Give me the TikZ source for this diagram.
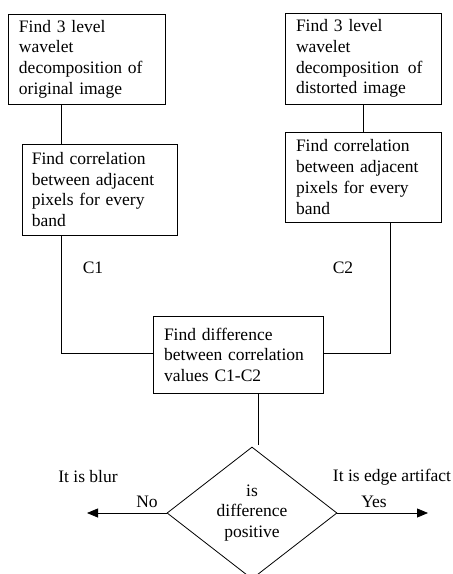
\documentclass[tikz,border=0pt]{standalone}
\usepackage{fontspec}
\setmainfont{Liberation Serif}
\usetikzlibrary{shapes.geometric,arrows.meta}
\begin{document}
\begin{tikzpicture}[x=1pt,y=-1pt,
  every node/.style={font=\fontsize{17.5}{20.7}\selectfont},
  stepbox/.style={draw, line width=0.8pt, align=left, inner xsep=11pt, inner ysep=2pt, anchor=center},
  conn/.style={line width=0.8pt},
  arr/.style={line width=0.8pt, -{Triangle[length=11pt,width=9pt]}},
  lbl/.style={inner sep=0pt}]
\useasboundingbox (0,0) rectangle (453,574);
\node[stepbox, text width=135pt, minimum height=90pt] (b1) at (86.5,59) {Find 3 level\\wavelet\\decomposition of\\original image};
\node[stepbox, text width=135pt, minimum height=91pt, inner xsep=9pt, text width=137pt] (b2) at (100.3,189.5) {Find correlation\\between adjacent\\pixels for every\\band};
\node[stepbox, text width=134pt, minimum height=91pt] (b5) at (363,58.5) {Find 3 level\\wavelet\\decomposition\enspace of\\distorted image};
\node[stepbox, text width=134pt, minimum height=90pt] (b4) at (363,177) {Find correlation\\between adjacent\\pixels for every\\band};
\node[stepbox, text width=148pt, minimum height=77pt] (b3) at (238,354.7) {Find difference\\between correlation\\values C1-C2};
\node[diamond, draw, line width=0.8pt, minimum width=170pt, minimum height=132pt, inner sep=0pt, align=center] (d) at (252,513) {is\\difference\\positive};
\node[lbl] (c1) at (93,268) {C1};
\node[lbl] (c2) at (343,268) {C2};
\node[lbl] (blur) at (88,477) {It is blur};
\node[lbl] (no) at (147,502) {No};
\node[lbl] (edge) at (392,477) {It is edge artifact};
\node[lbl] (yes) at (374,502) {Yes};
\coordinate (lend) at (87,513);
\coordinate (rend) at (428,513);
\draw[conn] ([xshift=-25.5pt]b1.south) -- ([xshift=-39.3pt]b2.north);
\draw[conn] ([xshift=-39.3pt]b2.south) |- ([yshift=1.4pt]b3.west);
\draw[conn] (b5.south) -- (b4.north);
\draw[conn] ([xshift=27pt]b4.south) |- ([yshift=1.4pt]b3.east);
\coordinate (m) at ([xshift=20pt]b3.south);
\draw[conn] (m) -- ([yshift=1.5pt]m |- d.north);
\draw[arr] (d.west) -- (lend);
\draw[arr] (d.east) -- (rend);
\end{tikzpicture}
\end{document}
